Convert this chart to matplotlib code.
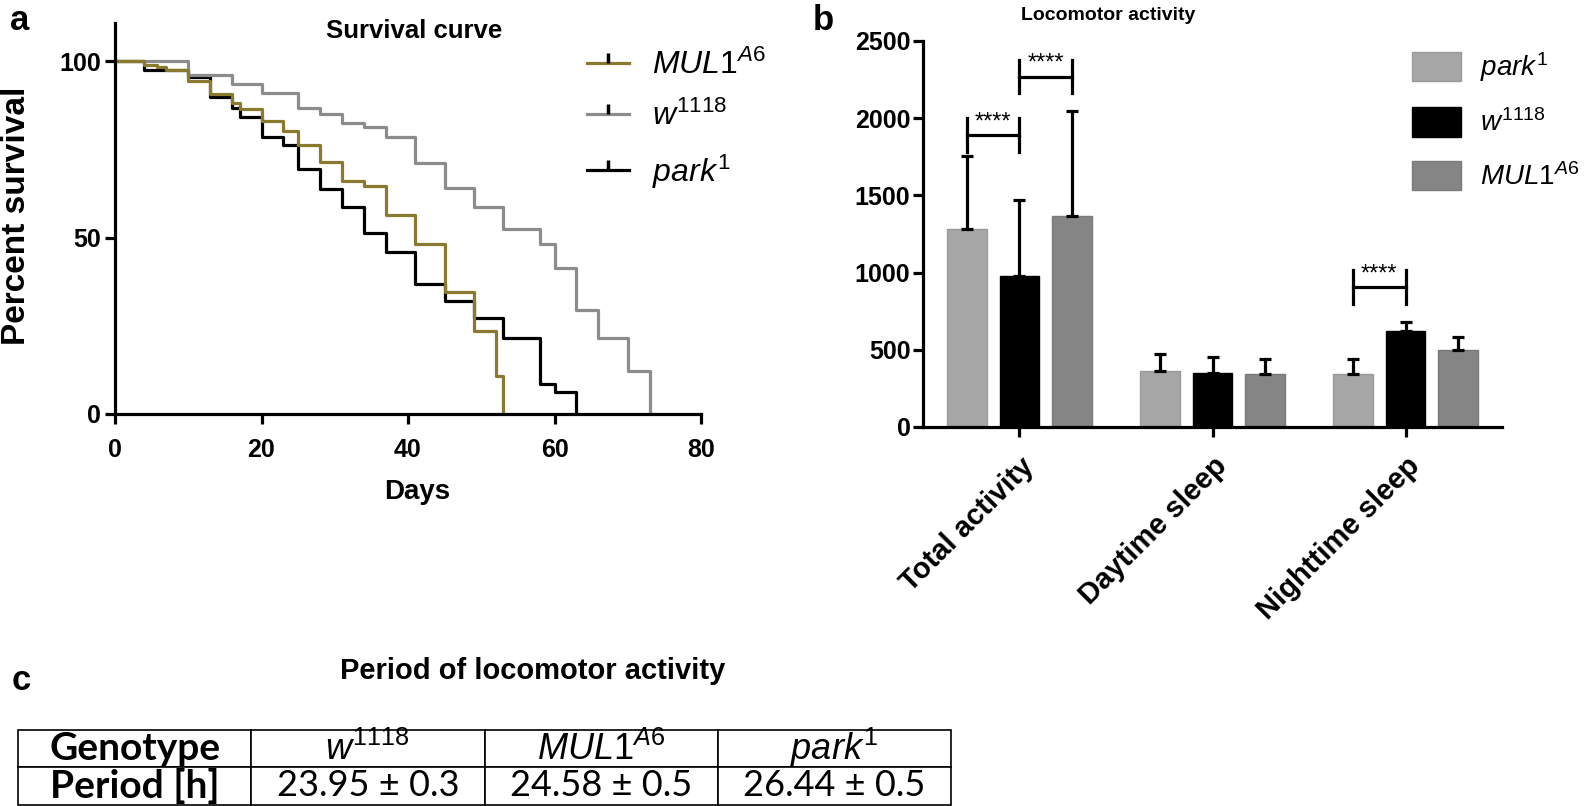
import numpy as np
import matplotlib
matplotlib.use('Agg')
import matplotlib.pyplot as plt
from matplotlib.lines import Line2D
from matplotlib.patches import Patch

plt.rcParams['font.family'] = ['Liberation Sans', 'DejaVu Sans']
plt.rcParams['mathtext.fontset'] = 'custom'
plt.rcParams['mathtext.rm'] = 'Liberation Sans'
plt.rcParams['mathtext.it'] = 'Liberation Sans:italic'
plt.rcParams['mathtext.bf'] = 'Liberation Sans:bold'

# ---- survival data (day, percent survival after the drop)
park_days = [0, 4, 10, 13, 16, 17, 20, 23, 25, 28, 31, 34, 37, 41, 45, 49, 53, 58, 60, 63]
park_surv = [100, 97.5, 95.6, 89.9, 86.6, 84.3, 78.4, 76.3, 69.5, 63.8, 58.6, 51.2, 45.8, 36.8, 32.1, 27.2, 21.5, 8.5, 6.3, 0]
w_days = [0, 10, 16, 20, 25, 28, 31, 34, 37, 41, 45, 49, 53, 58, 60, 63, 66, 70, 73]
w_surv = [100, 96.2, 93.4, 90.9, 86.8, 85.0, 82.4, 81.3, 78.5, 71.2, 64.0, 58.8, 52.5, 48.2, 41.4, 29.4, 21.5, 12.3, 0]
mul_days = [0, 4, 5.7, 7, 10, 13, 16, 17, 20, 23, 25, 28, 31, 34, 37, 41, 45, 49, 52, 53]
mul_surv = [100, 98.9, 98.2, 97.5, 94.4, 90.7, 88.1, 86.4, 82.9, 80.1, 76.3, 71.3, 66.0, 64.6, 56.4, 48.1, 34.5, 23.4, 10.8, 0]

# ---- locomotor activity (mean, upper SD)
categories = ['Total activity', 'Daytime sleep', 'Nighttime sleep']
park_mean = [1282, 362, 345]
park_err = [470, 112, 97]
w_mean = [981, 351, 621]
w_err = [489, 102, 62]
mul_mean = [1364, 345, 496]
mul_err = [683, 97, 90]
# significance brackets: (category, bar i, bar j, level)
sig_cat = [0, 0, 2]
sig_i = [0, 1, 0]
sig_j = [1, 2, 1]
sig_level = [1892, 2270, 905]

# ---- table
tab_header = ['Genotype', r'$\mathit{w}^{\mathit{1118}}$', r'$\mathit{MUL1}^{\mathit{A6}}$', r'$\mathit{park}^{\mathit{1}}$']
tab_period = ['Period [h]', '23.95 ± 0.3', '24.58 ± 0.5', '26.44 ± 0.5']

c_mul = '#8a7a30'
c_w = '#8c8c8c'
c_park = '#000000'
lw = 2.3

W, H = 1595, 806
fig = plt.figure(figsize=(W / 100, H / 100), dpi=100)

# ================= panel a
ax1 = fig.add_axes([115 / W, 1 - 414 / H, (701 - 115) / W, (414 - 23) / H])
ax1.step(park_days, park_surv, where='post', color=c_park, lw=lw)
ax1.step(w_days, w_surv, where='post', color=c_w, lw=lw)
ax1.step(mul_days, mul_surv, where='post', color=c_mul, lw=lw)
ax1.set_xlim(0, 80)
ax1.set_ylim(0, 110.8)
ax1.set_xticks([0, 20, 40, 60, 80])
ax1.set_yticks([0, 50, 100])
for s in ['top', 'right']:
    ax1.spines[s].set_visible(False)
for s in ['left', 'bottom']:
    ax1.spines[s].set_linewidth(lw)
ax1.tick_params(direction='out', length=7, width=lw, labelsize=18)
ax1.tick_params(axis='x', pad=10)
ax1.tick_params(axis='y', pad=3)
for t in ax1.get_xticklabels() + ax1.get_yticklabels():
    t.set_fontweight('bold')
fig.text(17 / W, 1 - 216 / H, 'Percent survival', rotation=90, ha='center', va='center',
         fontsize=24, fontweight='bold')
ax1.set_xlabel('Days', fontsize=20, fontweight='bold')
ax1.xaxis.set_label_coords(0.515, -0.165)

handles = [Line2D([0], [0], color=c, lw=lw, marker=2, markersize=7,
                  markeredgewidth=2.5, markeredgecolor='black')
           for c in [c_mul, c_w, c_park]]
labels = [r'$\mathit{MUL1}^{\mathit{A6}}$', r'$\mathit{w}^{\mathit{1118}}$', r'$\mathit{park}^{\mathit{1}}$']
fig.legend(handles, labels, loc='upper left', bbox_to_anchor=(587 / W, 1 - 50 / H),
           frameon=False, fontsize=23, handlelength=1.3, handletextpad=0.75,
           labelspacing=0.62, borderpad=0, borderaxespad=0, numpoints=1)

fig.text(414 / W, 1 - 31 / H, 'Survival curve', ha='center', va='center',
         fontsize=18.5, fontweight='bold')
fig.text(10 / W, 1 - 30 / H, 'a', fontsize=25, fontweight='bold')

# ================= panel b
ax2 = fig.add_axes([923 / W, 1 - 427 / H, (1502 - 923) / W, (427 - 41) / H])
x = np.arange(len(categories))
off = 0.273
bw = 0.205
series = [(park_mean, park_err, '#a6a6a6', '#999999'),
          (w_mean, w_err, '#000000', '#000000'),
          (mul_mean, mul_err, '#858585', '#7a7a7a')]
for k, (m, e, fc, ec) in enumerate(series):
    xs = x + (k - 1) * off
    ax2.bar(xs, m, width=bw, color=fc, edgecolor=ec, lw=1, zorder=2)
    ax2.errorbar(xs, m, yerr=[np.zeros(len(m)), e], fmt='none', ecolor='black',
                 elinewidth=lw, capsize=4.5, capthick=lw, zorder=3)

half = 110
for c, i, j, lev in zip(sig_cat, sig_i, sig_j, sig_level):
    x1 = x[c] + (i - 1) * off
    x2 = x[c] + (j - 1) * off
    ax2.plot([x1, x2], [lev, lev], color='black', lw=lw, zorder=4)
    ax2.plot([x1, x1], [lev - half, lev + half], color='black', lw=lw, zorder=4)
    ax2.plot([x2, x2], [lev - half, lev + half], color='black', lw=lw, zorder=4)
    ax2.text((x1 + x2) / 2, lev + half * 0.75, '****', ha='center', va='center', fontsize=17)

ax2.set_xlim(-0.5, 2.5)
ax2.set_ylim(0, 2500)
ax2.set_yticks([0, 500, 1000, 1500, 2000, 2500])
ax2.set_xticks(x)
ax2.set_xticklabels(categories, rotation=45, ha='right', va='top', rotation_mode='anchor',
                    fontsize=21, fontweight='bold')
for s in ['top', 'right']:
    ax2.spines[s].set_visible(False)
for s in ['left', 'bottom']:
    ax2.spines[s].set_linewidth(lw)
ax2.tick_params(direction='out', length=7, width=lw, labelsize=18)
ax2.tick_params(axis='x', pad=11, labelsize=21)
ax2.tick_params(axis='y', pad=2)
for t in ax2.get_yticklabels():
    t.set_fontweight('bold')

phandles = [Patch(facecolor=fc, edgecolor=ec) for (_, _, fc, ec) in series]
plabels = [r'$\mathit{park}^{\mathit{1}}$', r'$\mathit{w}^{\mathit{1118}}$', r'$\mathit{MUL1}^{\mathit{A6}}$']
fig.legend(phandles, plabels, loc='upper left', bbox_to_anchor=(1412 / W, 1 - 50 / H),
           frameon=False, fontsize=20, handlelength=1.75, handleheight=1.25,
           handletextpad=0.7, labelspacing=0.85, borderpad=0, borderaxespad=0)

fig.text(1108 / W, 1 - 15 / H, 'Locomotor activity', ha='center', va='center',
         fontsize=14, fontweight='bold')
fig.text(813 / W, 1 - 30 / H, 'b', fontsize=25, fontweight='bold')

# ================= panel c
fig.text(12 / W, 1 - 690 / H, 'c', fontsize=25, fontweight='bold')
fig.text(533 / W, 1 - 671 / H, 'Period of locomotor activity', ha='center', va='center',
         fontsize=21, fontweight='bold', family=['Liberation Sans Narrow', 'Liberation Sans'])

ax3 = fig.add_axes([18 / W, 1.5 / H, (951 - 18) / W, (806 - 731) / H])
ax3.axis('off')
tab = ax3.table(cellText=[tab_header, tab_period], cellLoc='center', bbox=[0, 0, 1, 1])
tab.auto_set_font_size(False)
for (r, c), cell in tab.get_celld().items():
    cell.set_linewidth(1.2)
    txt = cell.get_text()
    txt.set_fontfamily(['Lato', 'DejaVu Sans'])
    txt.set_fontsize(26)
    if c == 0:
        txt.set_fontweight('bold')
        txt.set_fontsize(28)

fig.savefig('out.png', dpi=100)
